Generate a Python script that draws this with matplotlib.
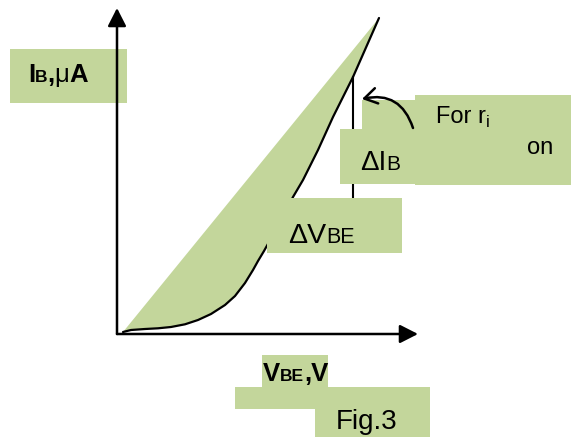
import matplotlib.pyplot as plt
from matplotlib.patches import Rectangle, FancyArrowPatch
from matplotlib.transforms import offset_copy

plt.rcParams['font.family'] = ['Liberation Sans', 'DejaVu Sans']

GREEN = '#c3d69b'

# input characteristic of the transistor (arbitrary units)
v_be = [6, 14, 28, 41, 54, 68, 81, 94, 108, 118, 128, 136, 141, 147,
        161, 176, 186, 201, 216, 236, 262]
i_b = [2, 4, 5, 5.7, 7, 9.7, 14, 20, 29, 38, 51, 64, 73, 83,
       108, 137, 154, 184, 217, 257, 316]

# operating point where the increments are taken
v_q = 236
i_q = 257
i_low = 110

# label boxes: (x0, y0, width, height)
boxes = [
    (-107, 231, 117, 54),
    (223, 150, 75, 55),
    (245, 205, 53, 29),
    (298, 149, 156, 90),
    (150, 81, 135, 55),
    (145, -53, 66, 32),
    (118, -75, 195, 22),
    (198, -103, 115, 28),
]

fig = plt.figure(figsize=(5.71, 4.37), dpi=100)
ax = fig.add_axes([0, 0, 1, 1])
ax.set_xlim(-117, 454)
ax.set_ylim(-103, 334)
ax.axis('off')


def draw_runs(x, y, runs):
    # place text pieces one after another on a shared baseline
    renderer = fig.canvas.get_renderer()
    dx = 0
    for text, size, weight, dy in runs:
        tr = offset_copy(ax.transData, fig=fig, x=dx, y=dy, units='dots')
        t = ax.text(x, y, text, transform=tr, fontsize=size, fontweight=weight,
                    ha='left', va='baseline', zorder=6)
        dx += t.get_window_extent(renderer).width


# shaded area between the chord and the curve
ax.fill(v_be, i_b, color=GREEN, lw=0, zorder=1)
ax.plot(v_be, i_b, color='black', lw=1.6, zorder=3,
        solid_capstyle='round', solid_joinstyle='round')
ax.plot([v_q, v_q], [i_q, i_low], color='black', lw=1.5, zorder=2)

for x0, y0, w, h in boxes:
    ax.add_patch(Rectangle((x0, y0), w, h, facecolor=GREEN, edgecolor='none', zorder=4))

# axes with arrow heads
for end in [(301, 0), (0, 326)]:
    ax.add_patch(FancyArrowPatch((0, 0), end, arrowstyle='-|>,head_length=0.55,head_width=0.28',
                                 mutation_scale=20, lw=1.8, color='black',
                                 shrinkA=0, shrinkB=0, zorder=7))

ax.add_patch(FancyArrowPatch((296, 206), (245, 235), connectionstyle='arc3,rad=0.45',
                             arrowstyle='->,head_length=0.45,head_width=0.28',
                             mutation_scale=20, lw=1.8, color='black',
                             shrinkA=0, shrinkB=0, zorder=7))

draw_runs(-89, 252, [('I', 18.5, 'bold', 0), ('B', 12.5, 'bold', 0),
                     (',', 18.5, 'bold', 0), ('μ', 18.5, 'normal', 0), ('A', 18.5, 'bold', 0)])
draw_runs(243, 164, [('ΔI', 20, 'normal', 0), ('B', 15, 'normal', 0)])
draw_runs(319, 211, [('For r', 17, 'normal', 0), ('i', 12, 'normal', -4)])
draw_runs(410, 180, [('on', 17, 'normal', 0)])
draw_runs(171, 91, [('ΔV', 20.5, 'normal', 0), ('BE', 15.5, 'normal', 0)])
draw_runs(146, -47, [('V', 18.5, 'bold', 0), ('BE', 12.5, 'bold', 0), (',V', 18.5, 'bold', 0)])
draw_runs(219, -95, [('Fig.3', 20, 'normal', 0)])

fig.savefig('out.png', dpi=100)
